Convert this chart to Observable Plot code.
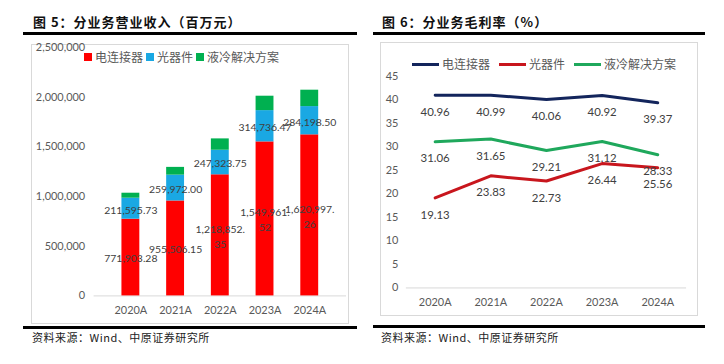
<!DOCTYPE html>
<html>
<head>
<meta charset="utf-8">
<script src="https://cdn.jsdelivr.net/npm/d3@7"></script>
<script src="https://cdn.jsdelivr.net/npm/@observablehq/plot@0.6"></script>
<style>
  html, body { margin: 0; padding: 0; background: #fff; }
  #page { position: relative; width: 724px; height: 364px; overflow: hidden; font-family: Lato, "Noto Sans CJK SC", sans-serif; }
  .abs { position: absolute; }
  .title { font-family: "Noto Sans CJK SC", sans-serif; font-weight: 700; font-size: 13px; line-height: 14px; color: #111; letter-spacing: 1px; white-space: nowrap; }
  .rule { background: #000; height: 3px; }
  .frame { border: 1px solid #D9D9D9; box-sizing: border-box; }
  .foot { font-family: "Noto Sans CJK SC", sans-serif; font-size: 11px; line-height: 12px; color: #222; white-space: nowrap; letter-spacing: 0.5px; }
  .leg { font-family: "Noto Sans CJK SC", sans-serif; font-size: 12px; line-height: 14px; color: #595959; white-space: nowrap; display: flex; align-items: center; }
  .sq { display: inline-block; width: 8px; height: 8px; margin-right: 3px; }
  .ln { display: inline-block; width: 27px; height: 3px; margin-right: 3px; }
</style>
</head>
<body>
<div id="page">
  <div class="abs title" style="left:33px; top:15px;">图 5：分业务营业收入（百万元）</div>
  <div class="abs rule" style="left:23px; top:32px; width:334px;"></div>
  <div class="abs title" style="left:382px; top:15px;">图 6：分业务毛利率（%）</div>
  <div class="abs rule" style="left:373px; top:32px; width:332px;"></div>

  <div id="left" class="abs frame" style="left:31px; top:44px; width:318px; height:280px;"></div>
  <div id="right" class="abs frame" style="left:380px; top:42px; width:318px; height:274px;"></div>

  <div id="legL" class="abs leg" style="left:84px; top:50px;"></div>
  <div id="legR" class="abs leg" style="left:412px; top:57px;"></div>

  <div class="abs rule" style="left:23px; top:326px; width:334px;"></div>
  <div class="abs rule" style="left:373px; top:325px; width:332px;"></div>
  <div class="abs foot" style="left:32px; top:331px;">资料来源：Wind、中原证券研究所</div>
  <div class="abs foot" style="left:381px; top:331px;">资料来源：Wind、中原证券研究所</div>
</div>
<script>
const years = ["2020A", "2021A", "2022A", "2023A", "2024A"];
const series = ["电连接器", "光器件", "液冷解决方案"];

// revenue (百万元)
const revConnector = [771903.28, 955506.15, 1218852.35, 1549961.52, 1620997.26];
const revOptical = [211595.73, 259972.00, 247323.75, 314736.47, 284198.50];
const revLiquid = [50000, 78000, 114000, 145000, 165000];
const revTicks = [0, 500000, 1000000, 1500000, 2000000, 2500000];

// gross margin (%)
const gmConnector = [40.96, 40.99, 40.06, 40.92, 39.37];
const gmOptical = [19.13, 23.83, 22.73, 26.44, 25.56];
const gmLiquid = [31.06, 31.65, 29.21, 31.12, 28.33];
const gmTicks = [0, 5, 10, 15, 20, 25, 30, 35, 40, 45];

const barColors = ["#FF0000", "#1AA8E3", "#00B050"];
const lineColors = ["#13255C", "#C8161D", "#1FA85C"];

const rev = [];
[revConnector, revOptical, revLiquid].forEach((arr, si) =>
  arr.forEach((v, i) => rev.push({year: years[i], series: series[si], value: v})));
const gm = [];
[gmConnector, gmOptical, gmLiquid].forEach((arr, si) =>
  arr.forEach((v, i) => gm.push({year: years[i], series: series[si], value: v})));

const fmt2 = d3.format(",.2f");
function revLabel(v) {
  const s = fmt2(v);
  if (v >= 1e6) { const k = s.indexOf(".") + 1; return s.slice(0, k) + "\n" + s.slice(k); }
  return s;
}

const axisStyle = {fontFamily: "Lato, sans-serif", fontSize: "11px", color: "#595959", background: "transparent", overflow: "visible"};

const left = Plot.plot({
  width: 318, height: 280,
  marginLeft: 62, marginRight: 2, marginTop: 2, marginBottom: 28,
  style: axisStyle,
  x: {domain: years, padding: 0.59, label: null, tickSize: 0, tickPadding: 10},
  y: {domain: [0, 2500000], ticks: revTicks, tickFormat: d3.format(","), label: null, tickSize: 0, tickPadding: 9},
  color: {domain: series, range: barColors},
  marks: [
    Plot.ruleY([0], {stroke: "#D9D9D9"}),
    Plot.barY(rev, {x: "year", y: "value", fill: "series", order: series}),
    Plot.text(rev.filter(d => d.series !== series[2]),
      Plot.stackY({x: "year", y: "value", z: "series", order: series, text: d => revLabel(d.value),
        fill: "#404040", fontSize: 10.5, lineHeight: 1.45}))
  ]
});
document.getElementById("left").appendChild(left);

const right = Plot.plot({
  width: 318, height: 274,
  marginLeft: 25, marginRight: 11, marginTop: 33, marginBottom: 28,
  style: axisStyle,
  x: {type: "point", domain: years, padding: 0.5, label: null, tickSize: 0, tickPadding: 10},
  y: {domain: [0, 45], ticks: gmTicks, label: null, tickSize: 0, tickPadding: 8},
  color: {domain: series, range: lineColors},
  marks: [
    Plot.ruleY([0], {stroke: "#D9D9D9"}),
    Plot.line(gm, {x: "year", y: "value", stroke: "series", strokeWidth: 3}),
    Plot.text(gm, {x: "year", y: "value", text: d => d.value.toFixed(2), dy: 17, fill: "#404040", fontSize: 11.5})
  ]
});
document.getElementById("right").appendChild(right);

// legends
const legL = document.getElementById("legL");
series.forEach((s, i) => {
  const sq = document.createElement("span"); sq.className = "sq"; sq.style.background = barColors[i];
  const t = document.createElement("span"); t.textContent = s; t.style.marginRight = "3px";
  legL.appendChild(sq); legL.appendChild(t);
});
const legR = document.getElementById("legR");
series.forEach((s, i) => {
  const ln = document.createElement("span"); ln.className = "ln"; ln.style.background = lineColors[i];
  const t = document.createElement("span"); t.textContent = s; t.style.marginRight = "9px";
  legR.appendChild(ln); legR.appendChild(t);
});
</script>
</body>
</html>
